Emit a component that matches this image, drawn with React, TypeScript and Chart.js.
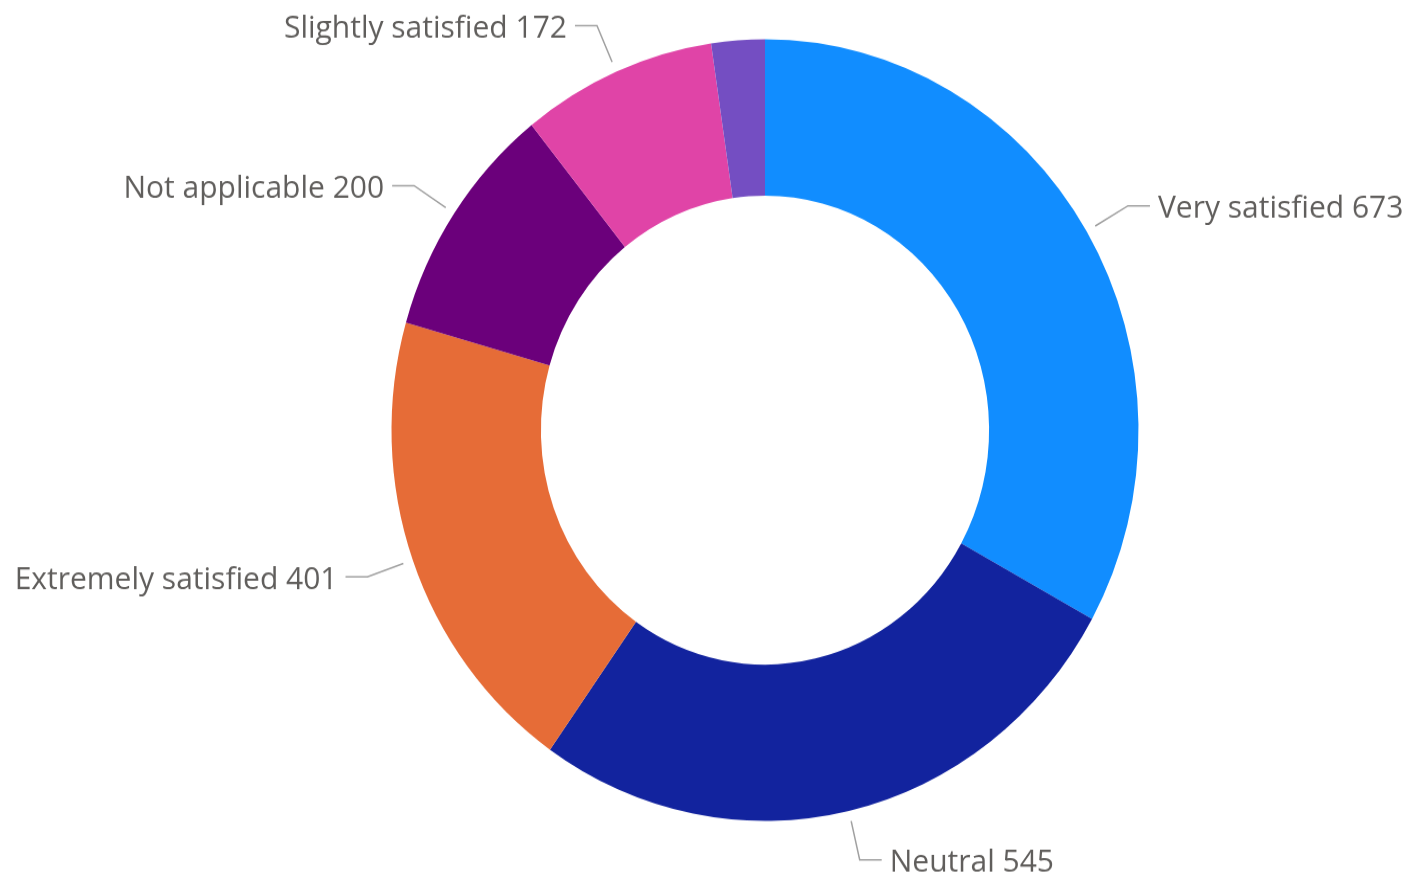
import React, { useEffect, useRef } from 'react';
import { Chart, registerables } from 'chart.js';

Chart.register(...registerables);

const categories = ['Very satisfied', 'Neutral', 'Extremely satisfied', 'Not applicable', 'Slightly satisfied', 'Dissatisfied'];
const values = [673, 545, 401, 200, 172, 47];
const colors = ['#118DFF', '#12239E', '#E66C37', '#6B007B', '#E044A7', '#744EC2'];

const PAGE_W = 1409;
const PAGE_H = 880;
const STRETCH_Y = 1.046;
const CANVAS_H = Math.round(PAGE_H / STRETCH_Y);

const leaderLabels = {
  id: 'leaderLabels',
  afterDraw(chart: any) {
    const ctx = chart.ctx;
    const meta = chart.getDatasetMeta(0);
    const total = values.reduce((a, b) => a + b, 0);
    ctx.save();
    ctx.font = '30px "Segoe UI", "Open Sans", sans-serif';
    ctx.textBaseline = 'middle';
    meta.data.forEach((arc: any, i: number) => {
      if (values[i] / total < 0.03) return;
      const { x, y, startAngle, endAngle, outerRadius } = arc.getProps(['x', 'y', 'startAngle', 'endAngle', 'outerRadius'], true);
      const mid = (startAngle + endAngle) / 2;
      const r1 = outerRadius + 10;
      const r2 = outerRadius + 48;
      const x1 = x + Math.cos(mid) * r1;
      const y1 = y + Math.sin(mid) * r1;
      const x2 = x + Math.cos(mid) * r2;
      const y2 = y + Math.sin(mid) * r2;
      const right = x2 >= x;
      const x3 = x2 + (right ? 22 : -22);
      ctx.strokeStyle = '#A0A0A0';
      ctx.lineWidth = 1.5;
      ctx.beginPath();
      ctx.moveTo(x1, y1);
      ctx.lineTo(x2, y2);
      ctx.lineTo(x3, y2);
      ctx.stroke();
      ctx.fillStyle = '#605E5C';
      ctx.textAlign = right ? 'left' : 'right';
      ctx.fillText(`${categories[i]} ${values[i]}`, x3 + (right ? 8 : -8), y2 + 3);
    });
    ctx.restore();
  },
};

export default function App() {
  const ref = useRef<HTMLCanvasElement>(null);
  useEffect(() => {
    if (!ref.current) return;
    const chart = new Chart(ref.current, {
      type: 'doughnut',
      data: {
        labels: categories,
        datasets: [
          {
            data: values,
            backgroundColor: colors,
            borderWidth: 0,
            hoverOffset: 0,
            offset: 0,
          },
        ],
      },
      options: {
        responsive: false,
        animation: false,
        devicePixelRatio: 1,
        cutout: '60%',
        events: [],
        layout: { padding: { left: 391.5, right: 270.5, top: 37.5, bottom: CANVAS_H - 37.5 - 747 } },
        plugins: {
          legend: { display: false },
          tooltip: { enabled: false },
        },
      },
      plugins: [leaderLabels],
    });
    return () => chart.destroy();
  }, []);
  return (
    <div style={{ position: 'absolute', left: 0, top: 0, width: PAGE_W, height: PAGE_H, background: '#fff' }}>
      <canvas
        ref={ref}
        width={PAGE_W}
        height={CANVAS_H}
        style={{ display: 'block', width: `${PAGE_W}px`, height: `${PAGE_H}px` }}
      />
    </div>
  );
}
